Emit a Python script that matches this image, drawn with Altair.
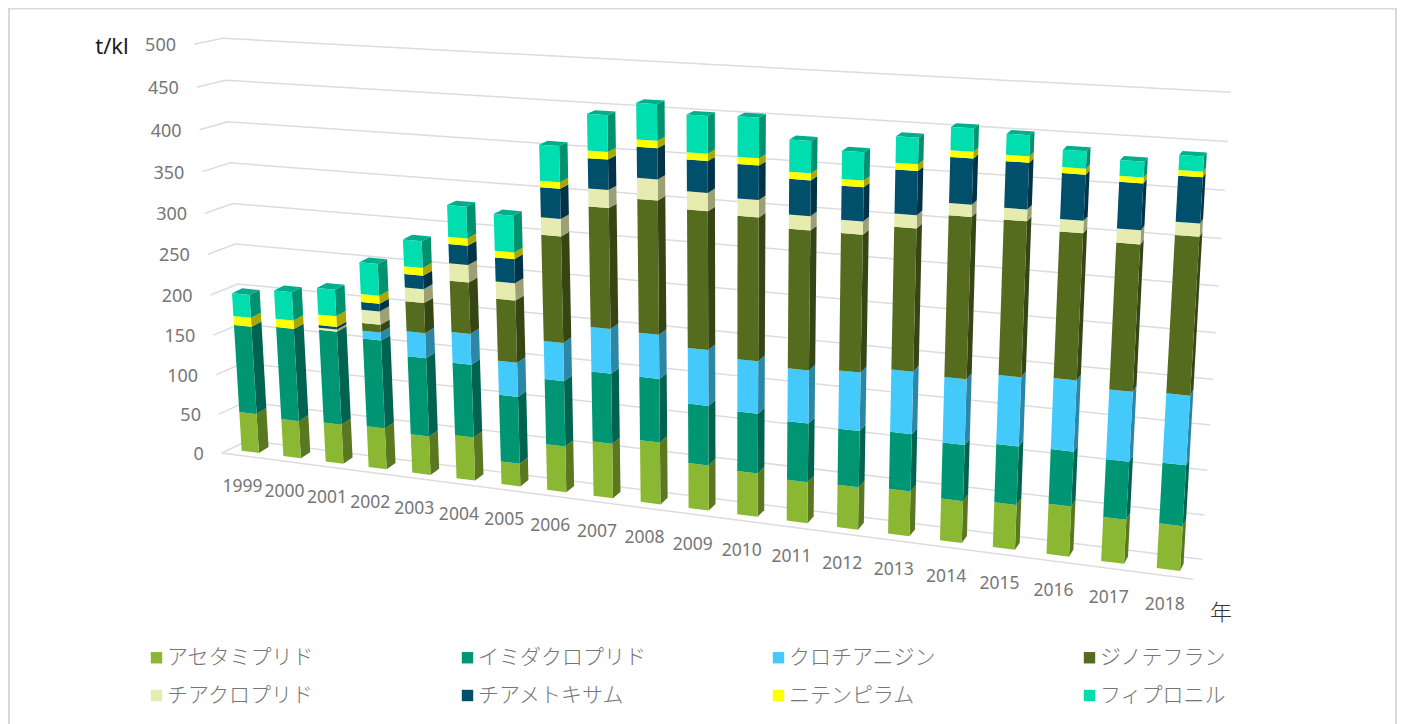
import altair as alt, numpy as np, pandas as pd

years = list(range(1999, 2019))
series = ["アセタミプリド", "イミダクロプリド", "クロチアニジン", "ジノテフラン",
          "チアクロプリド", "チアメトキサム", "ニテンピラム", "フィプロニル"]
front_colors = ["#8BB832", "#009673", "#44CAFA", "#556B1E", "#E6EBB0", "#004F6B", "#FFFF00", "#00DDAE"]
side_colors = ["#5A7820", "#006350", "#2C86A6", "#354614", "#9D9F75", "#003347", "#A8A800", "#00926F"]
top_color = "#00AE8C"

acetamiprid = [49.5, 47.0, 49.2, 50.9, 47.7, 53.1, 27.8, 55.7, 65.6, 73.9, 53.7, 51.3, 47.9, 49.4, 51.8, 47.9, 51.0, 56.6, 49.4, 49.8]
imidacloprid = [109.6, 115.1, 115.1, 108.2, 95.7, 88.4, 81.1, 78.1, 83.2, 74.7, 69.8, 69.4, 68.0, 64.5, 65.2, 63.6, 65.6, 61.1, 64.0, 66.7]
clothianidin = [0, 0, 0, 9.7, 30.3, 36.9, 40.8, 45.1, 52.1, 51.2, 64.6, 60.3, 60.7, 66.2, 70.2, 73.3, 76.5, 78.0, 76.1, 75.1]
dinotefuran = [0, 0, 0, 9.4, 36.1, 61.0, 73.6, 123.8, 138.5, 152.5, 156.6, 161.2, 155.8, 152.3, 156.6, 175.8, 167.4, 156.8, 156.1, 166.5]
thiacloprid = [0, 0, 2.5, 16.1, 16.4, 20.5, 20.3, 20.0, 20.3, 23.5, 20.3, 19.2, 15.7, 14.5, 14.3, 13.1, 12.4, 13.0, 14.6, 13.7]
thiamethoxam = [0, 0, 3.3, 9.3, 16.2, 22.7, 28.1, 34.2, 34.1, 34.4, 35.0, 37.6, 38.9, 36.8, 47.0, 48.6, 48.9, 47.9, 48.2, 47.0]
nitenpyram = [11.2, 10.3, 13.0, 9.7, 9.2, 8.5, 7.8, 7.5, 8.5, 8.2, 8.0, 8.0, 7.6, 7.2, 7.1, 7.0, 6.6, 6.2, 6.2, 5.8]
fipronil = [28.1, 34.8, 32.2, 38.0, 31.6, 36.9, 42.5, 40.7, 40.8, 40.2, 41.2, 43.8, 34.9, 30.3, 28.1, 24.4, 21.8, 17.8, 16.1, 15.2]
values = [acetamiprid, imidacloprid, clothianidin, dinotefuran, thiacloprid, thiamethoxam, nitenpyram, fipronil]
ticks = [0, 50, 100, 150, 200, 250, 300, 350, 400, 450, 500]

W, H = 1389, 716
GRAY = "#767676"
GRID = "#DCDCDC"


def fit(src, dst):
    A, b = [], []
    for (u, v), (x, y) in zip(src, dst):
        A.append([u, v, 1, 0, 0, 0, -u * x, -v * x]); b.append(x)
        A.append([0, 0, 0, u, v, 1, -u * y, -v * y]); b.append(y)
    return np.append(np.linalg.solve(np.array(A, float), np.array(b, float)), 1).reshape(3, 3)


def proj(M, u, v):
    p = M @ np.array([u, v, 1.0])
    return p[0] / p[2], p[1] / p[2]


corners = [(0, 0), (19, 0), (0, 500), (19, 500)]
FRONT = fit(corners, [(241.7, 450.7), (1156.7, 568), (216.5, 41.7), (1182.6, 95)])
BACK = fit(corners, [(251.4, 444.7), (1160.4, 560.7), (227.5, 38.7), (1185.6, 91.5)])
WALL = fit([(0, 0), (1, 0), (0, 500), (1, 500)], [(248.7, 446.6), (1201.7, 559.3), (222.7, 38), (1231, 92.3)])
BAR = 0.415


def wall_front(v):
    return 221.7 - 27.7 / 500 * v, 453 - 0.7722 * v - 9.04e-5 * v * v


def wall_back(v):
    return 248 - 25.3 / 500 * v, 440.5 - 0.7676 * v - 7.36e-5 * v * v


front, side, top = [], [], []


def face(rows, fid, pts, **kw):
    for k, (x, y) in enumerate(pts):
        rows.append(dict(fid=fid, k=k, x=x, y=y, **kw))


for i, yr in enumerate(years):
    c = 0.0
    for s, name in enumerate(series):
        d = values[s][i]
        if d > 0:
            a, b = c, c + d
            face(front, f"{yr}-{s}",
                 [proj(FRONT, i, a), proj(FRONT, i + BAR, a), proj(FRONT, i + BAR, b), proj(FRONT, i, b)],
                 series=name)
            face(side, f"{yr}-{s}",
                 [proj(FRONT, i + BAR, a), proj(BACK, i + BAR, a), proj(BACK, i + BAR, b), proj(FRONT, i + BAR, b)],
                 fill=side_colors[s])
            c = b
    face(top, f"{yr}", [proj(FRONT, i, c), proj(FRONT, i + BAR, c), proj(BACK, i + BAR, c), proj(BACK, i, c)])

grid = []
for v in ticks:
    pts = [wall_front(v), wall_back(v), proj(WALL, 1, v)]
    for k, (x, y) in enumerate(pts):
        grid.append(dict(fid=f"g{v}", k=k, x=x, y=y))
for k, (x, y) in enumerate([wall_front(0), (1193.3, 579.3)]):
    grid.append(dict(fid="floor", k=k, x=x, y=y))

tick_rows = [dict(x=wall_front(v)[0] - 18, y=wall_front(v)[1] + 2, t=str(v)) for v in ticks]
year_rows = []
for i, yr in enumerate(years):
    x, y = proj(FRONT, i + 0.02 + 0.0065 * i, 0)
    year_rows.append(dict(x=x, y=y + 36, t=str(yr)))

X = alt.X("x:Q", axis=None, scale=alt.Scale(domain=[8, 8 + W], nice=False, zero=False))
Y = alt.Y("y:Q", axis=None, scale=alt.Scale(domain=[8 + H, 8], nice=False, zero=False))

border = alt.Chart(pd.DataFrame({"x": [9, 9, 1396, 1396], "y": [724, 8.5, 8.5, 724], "k": [0, 1, 2, 3]})).mark_line(
    color="#D9D9D9", strokeWidth=2).encode(x=X, y=Y, order="k:O")
grid_l = alt.Chart(pd.DataFrame(grid)).mark_line(color=GRID, strokeWidth=1.5).encode(
    x=X, y=Y, detail="fid:N", order="k:O")
side_l = alt.Chart(pd.DataFrame(side)).mark_line(filled=True, strokeWidth=0).encode(
    x=X, y=Y, detail="fid:N", order="k:O", color=alt.Color("fill:N", scale=None))
top_l = alt.Chart(pd.DataFrame(top)).mark_line(filled=True, color=top_color, strokeWidth=0).encode(
    x=X, y=Y, detail="fid:N", order="k:O")
front_l = alt.Chart(pd.DataFrame(front)).mark_line(filled=True, strokeWidth=0).encode(
    x=X, y=Y, detail="fid:N", order="k:O",
    color=alt.Color("series:N", sort=series,
                    scale=alt.Scale(domain=series, range=front_colors),
                    legend=alt.Legend(title=None, orient="none", legendX=138, legendY=639, columns=4,
                                      direction="horizontal",
                                      symbolType="square", symbolSize=130, symbolStrokeWidth=0,
                                      labelFont="Noto Sans CJK JP", labelFontSize=21, labelFontWeight=300,
                                      labelColor=GRAY, gridAlign="all", columnPadding=122, rowPadding=16,
                                      labelOffset=0, labelLimit=300)))
ticks_l = alt.Chart(pd.DataFrame(tick_rows)).mark_text(
    align="right", baseline="middle", font="Noto Sans", fontSize=18, color=GRAY).encode(x=X, y=Y, text="t:N")
years_l = alt.Chart(pd.DataFrame(year_rows)).mark_text(
    align="center", baseline="middle", font="Noto Sans", fontSize=17.5, color=GRAY).encode(x=X, y=Y, text="t:N")
unit_l = alt.Chart(pd.DataFrame([dict(x=112, y=47, t="t/kl")])).mark_text(
    align="center", baseline="middle", font="Noto Sans", fontSize=22, color="#1A1A1A").encode(x=X, y=Y, text="t:N")
nen_l = alt.Chart(pd.DataFrame([dict(x=1221, y=613, t="年")])).mark_text(
    align="center", baseline="middle", font="Noto Sans CJK JP", fontSize=22, fontWeight=300, color="#333333").encode(x=X, y=Y, text="t:N")

chart = alt.layer(border, grid_l, side_l, top_l, front_l, ticks_l, years_l, unit_l, nen_l).resolve_scale(
    color="independent").properties(
    width=W, height=H, padding=0, autosize=alt.AutoSizeParams(type="none")).configure_view(stroke=None)
chart.save("out.html", embed_options={"renderer": "svg", "actions": False})
